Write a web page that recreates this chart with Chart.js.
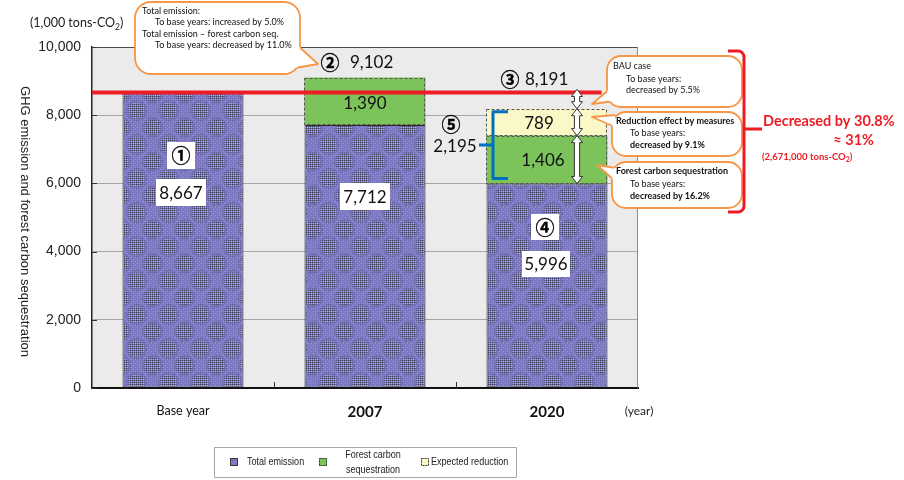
<!DOCTYPE html>
<html>
<head>
<meta charset="utf-8">
<script src="https://cdn.jsdelivr.net/npm/chart.js@4/dist/chart.umd.min.js"></script>
<style>
  html, body { margin: 0; padding: 0; background: #fff; }
  #wrap { width: 904px; height: 480px; position: relative; }
</style>
</head>
<body>
<div id="wrap"><canvas id="c" width="904" height="480"></canvas></div>
<script>
// ---- data -------------------------------------------------------------
const categories = ['Base year', '2007', '2020'];
const totalEmission = [8667, 7712, 5996];          // 1,000 tons-CO2
const forestSequestration = [null, 1390, 1406];
const expectedReduction = [null, null, 789];
const yTicks = [0, 2000, 4000, 6000, 8000, 10000];
const seriesNames = ['Total emission', 'Forest carbon sequestration', 'Expected reduction'];

// ---- look -------------------------------------------------------------
const NUM = 'Lato, "Open Sans", sans-serif';
const ARIAL = '"Liberation Sans", Arial, sans-serif';
const CJK = '"Noto Sans CJK JP", "Noto Sans CJK SC", sans-serif';
const ORANGE = '#f79646';
const RED = '#ed1c24';
const BLUE = '#0070c0';

const fmt = v => v.toLocaleString('en-US');
const pct = r => (Math.abs(r) * 100).toFixed(1) + '%';

const canvas = document.getElementById('c');
const ctx0 = canvas.getContext('2d');

// halftone-style fill for the emission bars
function halftonePattern() {
  const w = 32, h = 34;
  const cv = document.createElement('canvas');
  cv.width = w; cv.height = h;
  const g = cv.getContext('2d');
  const img = g.createImageData(w, h);
  const centers = [[8, 8], [24, 25]];
  for (let y = 0; y < h; y++) {
    for (let x = 0; x < w; x++) {
      let d = 1e9;
      for (const [cx, cy] of centers) {
        let dx = Math.abs(x - cx); dx = Math.min(dx, w - dx);
        let dy = Math.abs(y - cy); dy = Math.min(dy, h - dy);
        d = Math.min(d, Math.hypot(dx, dy));
      }
      const even = (x % 2 === 0) && (y % 2 === 0);
      const odd = (x % 2 === 1) && (y % 2 === 1);
      let c = [124, 120, 194];
      if (d < 8) {
        if (even) c = [64, 66, 90];
        else if (odd) c = [178, 178, 210];
        else c = [112, 110, 172];
      } else if (d < 10.5) {
        if (even) c = [94, 94, 144];
      } else if (odd && ((x + y) % 4 === 2)) {
        c = [156, 154, 208];
      }
      const i = (y * w + x) * 4;
      img.data[i] = c[0]; img.data[i + 1] = c[1]; img.data[i + 2] = c[2]; img.data[i + 3] = 255;
    }
  }
  g.putImageData(img, 0, 0);
  return ctx0.createPattern(cv, 'repeat');
}
const emissionFill = halftonePattern();
const forestFill = '#7cc35b';
const reductionFill = '#fbf8c8';

// ---- drawing helpers --------------------------------------------------
function text(ctx, s, x, y, font, color, align = 'center', baseline = 'middle') {
  ctx.font = font; ctx.fillStyle = color; ctx.textAlign = align; ctx.textBaseline = baseline;
  ctx.fillText(s, x, y);
}
function boxedText(ctx, s, cx, cy, w, h, font) {
  ctx.fillStyle = '#fff';
  ctx.fillRect(Math.round(cx - w / 2), Math.round(cy - h / 2), w, h);
  text(ctx, s, cx, cy + 1, font, '#111');
}
function narrowText(ctx, s, x, y, align) {
  ctx.save();
  ctx.translate(x, y); ctx.scale(0.82, 1);
  text(ctx, s, 0, 0, '11px ' + ARIAL, '#222', align);
  ctx.restore();
}
function doubleArrow(ctx, x, y1, y2) {
  const hw = 5.5, sw = 2.6, hl = Math.min(7, (y2 - y1) / 2.6);
  ctx.beginPath();
  ctx.moveTo(x, y1);
  ctx.lineTo(x + hw, y1 + hl); ctx.lineTo(x + sw, y1 + hl);
  ctx.lineTo(x + sw, y2 - hl); ctx.lineTo(x + hw, y2 - hl);
  ctx.lineTo(x, y2);
  ctx.lineTo(x - hw, y2 - hl); ctx.lineTo(x - sw, y2 - hl);
  ctx.lineTo(x - sw, y1 + hl); ctx.lineTo(x - hw, y1 + hl);
  ctx.closePath();
  ctx.fillStyle = '#fff'; ctx.fill();
  ctx.strokeStyle = '#333'; ctx.lineWidth = 1; ctx.stroke();
}
// rounded speech bubble: r = box, t = [baseA, tip, baseB]
function callout(ctx, r, t) {
  ctx.save();
  ctx.lineWidth = 1.8; ctx.strokeStyle = ORANGE; ctx.fillStyle = '#fff'; ctx.lineJoin = 'round';
  ctx.beginPath(); ctx.roundRect(r.x, r.y, r.w, r.h, r.r); ctx.fill(); ctx.stroke();
  ctx.beginPath(); ctx.moveTo(...t[0]); ctx.lineTo(...t[1]); ctx.lineTo(...t[2]); ctx.closePath(); ctx.fill();
  ctx.beginPath(); ctx.rect(0, 0, 904, 480); ctx.roundRect(r.x, r.y, r.w, r.h, r.r); ctx.clip('evenodd');
  ctx.beginPath(); ctx.moveTo(...t[0]); ctx.lineTo(...t[1]); ctx.lineTo(...t[2]); ctx.stroke();
  ctx.restore();
}
function lines(ctx, rows) {
  rows.forEach(([s, x, y, bold]) => text(ctx, s, x, y, (bold ? 'bold ' : '') + '9px ' + NUM, '#111', 'left'));
}
// circled marker digit
function circled(ctx, s, x, y) {
  ctx.font = 'bold 19px ' + CJK; ctx.textAlign = 'center'; ctx.textBaseline = 'middle';
  ctx.fillStyle = '#000'; ctx.strokeStyle = '#000'; ctx.lineWidth = 0.35;
  ctx.fillText(s, x, y); ctx.strokeText(s, x, y);
}

// ---- plugins ----------------------------------------------------------
const plotFrame = {
  id: 'plotFrame',
  beforeDraw(chart) {
    const { ctx, chartArea: a } = chart;
    ctx.save();
    ctx.fillStyle = '#ebebeb';
    ctx.fillRect(a.left, a.top, a.right - a.left, a.bottom - a.top);
    ctx.restore();
  },
  beforeDatasetsDraw(chart) {
    const { ctx, chartArea: a, scales: { x: xs, y: ys } } = chart;
    ctx.save();
    ctx.strokeStyle = '#8c8c8c'; ctx.lineWidth = 1;
    ctx.beginPath(); ctx.moveTo(a.right - 0.5, a.top); ctx.lineTo(a.right - 0.5, a.bottom); ctx.stroke();
    ctx.strokeStyle = '#333';
    yTicks.forEach(v => {
      const y = Math.round(ys.getPixelForValue(v)) + 0.5;
      ctx.beginPath(); ctx.moveTo(a.left, y); ctx.lineTo(a.left + 5, y); ctx.stroke();
    });
    for (let i = 0; i < categories.length - 1; i++) {
      const x = Math.round((xs.getPixelForValue(i) + xs.getPixelForValue(i + 1)) / 2) + 0.5;
      ctx.beginPath(); ctx.moveTo(x, a.bottom - 6); ctx.lineTo(x, a.bottom); ctx.stroke();
    }
    ctx.restore();
  }
};

const annotations = {
  id: 'annotations',
  afterDatasetsDraw(chart) {
    const { ctx, chartArea: a, scales: { y: ys } } = chart;
    const el = (d, i) => chart.getDatasetMeta(d).data[i].getProps(['x', 'y', 'base', 'width'], true);
    ctx.save();

    // dashed outlines of the stacked segments
    ctx.setLineDash([3, 2]); ctx.strokeStyle = '#555'; ctx.lineWidth = 1;
    [1, 2].forEach(d => {
      chart.data.datasets[d].data.forEach((v, i) => {
        if (v == null) return;
        const b = el(d, i);
        ctx.strokeRect(Math.round(b.x - b.width / 2) + 0.5, Math.round(b.y) + 0.5,
                       Math.round(b.width) - 1, Math.round(b.base - b.y) - 1);
      });
    });
    ctx.setLineDash([]);

    const b0 = el(0, 0), b1 = el(0, 1), b2 = el(0, 2);
    const total2007 = totalEmission[1] + forestSequestration[1];
    const total2020 = totalEmission[2] + forestSequestration[2] + expectedReduction[2];
    const yBase = ys.getPixelForValue(totalEmission[0]);

    // base-year level line
    ctx.strokeStyle = '#ee1c25'; ctx.lineWidth = 4;
    ctx.beginPath(); ctx.moveTo(a.left, yBase); ctx.lineTo(b2.x + b2.width / 2 - 6, yBase); ctx.stroke();

    const big = '17px ' + NUM;

    // base year
    boxedText(ctx, '', b0.x - 2, ys.getPixelForValue(6830), 28, 27, big);
    circled(ctx, '\u2460', b0.x - 2, ys.getPixelForValue(6830) + 1);
    boxedText(ctx, fmt(totalEmission[0]), b0.x - 2, ys.getPixelForValue(5720), 50, 27, big);

    // 2007
    boxedText(ctx, fmt(totalEmission[1]), b1.x, ys.getPixelForValue(5620), 50, 27, big);
    const g1 = el(1, 1);
    text(ctx, fmt(forestSequestration[1]), g1.x, (g1.y + g1.base) / 2 + 2, big, '#111');
    const yTop1 = ys.getPixelForValue(total2007) - 15;
    circled(ctx, '\u2461', b1.x - 35, yTop1);
    text(ctx, fmt(total2007), b1.x - 15, yTop1, big, '#111', 'left');

    // 2020
    boxedText(ctx, '', b2.x - 2, ys.getPixelForValue(4730), 28, 26, big);
    circled(ctx, '\u2463', b2.x - 2, ys.getPixelForValue(4730) + 1);
    boxedText(ctx, fmt(totalEmission[2]), b2.x - 1, ys.getPixelForValue(3640), 48, 26, big);
    const g2 = el(1, 2), r2 = el(2, 2);
    text(ctx, fmt(forestSequestration[2]), b2.x - 4, (g2.y + g2.base) / 2 + 1, big, '#111');
    text(ctx, fmt(expectedReduction[2]), b2.x - 8, (r2.y + r2.base) / 2 + 1, big, '#111');
    const yTop2 = ys.getPixelForValue(total2020) - 29;
    circled(ctx, '\u2462', b2.x - 37, yTop2);
    text(ctx, fmt(total2020), b2.x - 22, yTop2, big, '#111', 'left');

    // gaps to the base-year level
    const ax = b2.x + 30;
    doubleArrow(ctx, ax, yBase - 3, r2.y);
    doubleArrow(ctx, ax, r2.y, g2.y);
    doubleArrow(ctx, ax, g2.y, g2.base);

    // bracket over the two reduction segments
    const bx = b2.x - 54, bt = r2.y + 3, bb = g2.base - 5, bm = (bt + bb) / 2;
    ctx.strokeStyle = BLUE; ctx.lineWidth = 3; ctx.lineJoin = 'round';
    ctx.beginPath();
    ctx.moveTo(bx + 15, bt); ctx.lineTo(bx, bt); ctx.lineTo(bx, bb); ctx.lineTo(bx + 15, bb);
    ctx.moveTo(bx, bm); ctx.lineTo(bx - 14, bm);
    ctx.stroke();
    circled(ctx, '\u2464', bx - 42, bt + 13);
    text(ctx, fmt(forestSequestration[2] + expectedReduction[2]), bx - 38, bm + 1, big, '#111');

    ctx.restore();
  },
  afterDraw(chart) {
    const { ctx, chartArea: a } = chart;
    const base = totalEmission[0];
    const total2007 = totalEmission[1] + forestSequestration[1];
    const total2020 = totalEmission[2] + forestSequestration[2] + expectedReduction[2];
    ctx.save();

    // unit
    ctx.font = '12.5px ' + NUM; ctx.fillStyle = '#222'; ctx.textBaseline = 'middle'; ctx.textAlign = 'left';
    const u1 = '(1,000 tons-CO';
    ctx.fillText(u1, 30, 23);
    let ux = 30 + ctx.measureText(u1).width;
    ctx.font = '8.5px ' + NUM; ctx.fillText('2', ux, 27);
    ux += ctx.measureText('2').width;
    ctx.font = '12.5px ' + NUM; ctx.fillText(')', ux, 23);

    // axis title (reads top to bottom)
    ctx.save();
    ctx.translate(25, (a.top + a.bottom) / 2 + 4);
    ctx.rotate(Math.PI / 2);
    text(ctx, 'GHG emission and forest carbon sequestration', 0, 0, '13px ' + ARIAL, '#222');
    ctx.restore();

    text(ctx, '(year)', a.right + 1, 411, '12px ' + NUM, '#222');

    // 2007 comparison
    callout(ctx, { x: 135, y: 2, w: 165, h: 72, r: 16 }, [[296, 44], [318, 64], [278, 71]]);
    lines(ctx, [
      ['Total emission:', 142, 11],
      ['To base years: increased by ' + pct((total2007 - base) / base), 155, 22],
      ['Total emission \u2013 forest carbon seq.', 142, 34],
      ['To base years: decreased by ' + pct((totalEmission[1] - base) / base), 155, 45]
    ]);

    // 2020 breakdown
    callout(ctx, { x: 607, y: 56, w: 135, h: 51, r: 14 }, [[611, 88], [592, 104], [614, 101]]);
    lines(ctx, [
      ['BAU case', 613, 66],
      ['To base years:', 626, 79],
      ['decreased by ' + pct((total2020 - base) / base), 626, 90]
    ]);
    callout(ctx, { x: 612, y: 112, w: 130, h: 44, r: 14 }, [[615, 115], [592, 117], [615, 127]]);
    lines(ctx, [
      ['Reduction effect by measures', 616, 121, true],
      ['To base years:', 630, 133],
      ['decreased by ' + pct(expectedReduction[2] / base), 630, 145, true]
    ]);
    callout(ctx, { x: 612, y: 162, w: 130, h: 46, r: 14 }, [[616, 168], [597, 165], [615, 181]]);
    lines(ctx, [
      ['Forest carbon sequestration', 616, 171, true],
      ['To base years:', 630, 184],
      ['decreased by ' + pct(forestSequestration[2] / base), 630, 196, true]
    ]);

    // overall reduction brace
    ctx.strokeStyle = RED; ctx.lineWidth = 3; ctx.lineJoin = 'round'; ctx.lineCap = 'butt';
    ctx.beginPath();
    ctx.moveTo(728, 51); ctx.lineTo(738, 51); ctx.arcTo(744, 51, 744, 57, 6);
    ctx.lineTo(744, 206); ctx.arcTo(744, 212, 738, 212, 6); ctx.lineTo(728, 212);
    ctx.moveTo(744, 129); ctx.lineTo(762, 129);
    ctx.stroke();
    const cut = base - totalEmission[2];
    text(ctx, 'Decreased by ' + pct(cut / base), 763, 121, 'bold 14.5px ' + NUM, RED, 'left');
    text(ctx, '\u2248 ' + Math.round(cut / base * 100) + '%', 874, 140, 'bold 14.5px ' + NUM, RED, 'right');
    ctx.font = 'bold 9.5px ' + NUM; ctx.textAlign = 'left'; ctx.fillStyle = RED; ctx.textBaseline = 'middle';
    const p1 = '(' + fmt(cut * 1000) + ' tons-CO';
    ctx.fillText(p1, 762, 157);
    let px = 762 + ctx.measureText(p1).width;
    ctx.font = 'bold 7px ' + NUM; ctx.fillText('2', px, 160);
    px += ctx.measureText('2').width;
    ctx.font = 'bold 9.5px ' + NUM; ctx.fillText(')', px, 157);

    // legend
    ctx.strokeStyle = '#a6a6a6'; ctx.lineWidth = 1;
    ctx.strokeRect(214.5, 447.5, 302, 30);
    const swatch = (x, fill, dashed) => {
      ctx.fillStyle = fill; ctx.fillRect(x, 458, 8, 8);
      ctx.setLineDash(dashed ? [2, 1] : []);
      ctx.strokeStyle = '#333'; ctx.strokeRect(x + 0.5, 458.5, 7, 7);
      ctx.setLineDash([]);
    };
    swatch(230, emissionFill, false);
    narrowText(ctx, seriesNames[0], 247, 462, 'left');
    swatch(319, forestFill, true);
    narrowText(ctx, 'Forest carbon', 373, 455, 'center');
    narrowText(ctx, 'sequestration', 373, 470, 'center');
    swatch(421, reductionFill, true);
    narrowText(ctx, seriesNames[2], 431, 462, 'left');

    ctx.restore();
  }
};

// ---- chart ------------------------------------------------------------
new Chart(ctx0, {
  type: 'bar',
  data: {
    labels: categories,
    datasets: [
      { label: seriesNames[0], data: totalEmission, backgroundColor: emissionFill,
        borderColor: '#2b2b2b', borderWidth: 1, borderSkipped: false },
      { label: seriesNames[1], data: forestSequestration, backgroundColor: forestFill, borderWidth: 0 },
      { label: seriesNames[2], data: expectedReduction, backgroundColor: reductionFill, borderWidth: 0 }
    ]
  },
  options: {
    responsive: false,
    animation: false,
    devicePixelRatio: 1,
    layout: { padding: { left: 0, right: 266, top: 47, bottom: 0 } },
    datasets: { bar: { barPercentage: 0.665, categoryPercentage: 1 } },
    plugins: { legend: { display: false }, tooltip: { enabled: false } },
    scales: {
      x: {
        stacked: true, offset: true,
        grid: { display: false, drawTicks: false },
        border: { color: '#111', width: 2 },
        ticks: {
          padding: 15, color: '#111',
          font: c => c.index === 0 ? { family: NUM, size: 12.5 } : { family: NUM, size: 15, weight: 'bold' }
        },
        afterFit: s => { s.height = 92; }
      },
      y: {
        stacked: true, min: 0, max: 10000,
        grid: { color: c => (c.tick && c.tick.value === 10000) ? '#4d4d4d' : '#a6a6a6', drawTicks: false },
        border: { color: '#222', width: 1.5 },
        ticks: { stepSize: 2000, padding: 11, color: '#222', font: { family: ARIAL, size: 14 }, callback: v => fmt(v) },
        afterBuildTicks: s => { s.ticks = yTicks.map(v => ({ value: v })); },
        afterFit: s => { s.width = 92; }
      }
    }
  },
  plugins: [plotFrame, annotations]
});
</script>
</body>
</html>
